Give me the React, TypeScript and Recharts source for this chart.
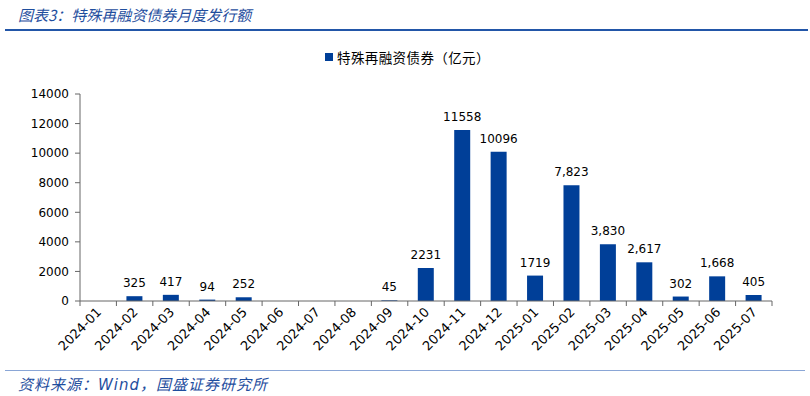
import { Bar, BarChart, LabelList, XAxis, YAxis } from 'recharts';

// 特殊再融资债券月度发行额(亿元)
const months = [
  '2024-01', '2024-02', '2024-03', '2024-04', '2024-05', '2024-06', '2024-07',
  '2024-08', '2024-09', '2024-10', '2024-11', '2024-12', '2025-01', '2025-02',
  '2025-03', '2025-04', '2025-05', '2025-06', '2025-07',
];
const issuance = [0, 325, 417, 94, 252, 0, 0, 0, 45, 2231, 11558, 10096, 1719, 7823, 3830, 2617, 302, 1668, 405];
const valueLabels = ['', '325', '417', '94', '252', '', '', '', '45', '2231', '11558', '10096', '1719', '7,823', '3,830', '2,617', '302', '1,668', '405'];
const yTicks = [0, 2000, 4000, 6000, 8000, 10000, 12000, 14000];

const W = 810;
const H = 396;
const PLOT_LEFT = 80;
const PLOT_RIGHT = 772;
const BAND = (PLOT_RIGHT - PLOT_LEFT) / months.length;
const BAR_COLOR = '#003f98';
const AXIS_COLOR = '#666666';
const FONT = '"DejaVu Sans", Tahoma, sans-serif';
const CJK = '"Noto Sans CJK SC", sans-serif';

const rows = months.map((m, i) => ({ month: m, v: issuance[i], label: valueLabels[i] }));

function XTick(props: any) {
  const { x, y, payload } = props;
  const axisY = y - 8;
  const last = payload.index === months.length - 1;
  return (
    <g>
      <line x1={x - BAND / 2} y1={axisY} x2={x - BAND / 2} y2={axisY + 5} stroke={AXIS_COLOR} />
      {last && <line x1={x + BAND / 2} y1={axisY} x2={x + BAND / 2} y2={axisY + 5} stroke={AXIS_COLOR} />}
      <text
        x={x + 4}
        y={y + 4}
        textAnchor="end"
        transform={`rotate(-45, ${x + 4}, ${y + 4})`}
        fontSize={13}
        fontFamily={FONT}
        fill="#000"
      >
        {payload.value}
      </text>
    </g>
  );
}

export default function App() {
  return (
    <div style={{ position: 'fixed', left: 0, top: 0, width: W, height: H, background: '#fff' }}>
      <div
        style={{
          position: 'absolute', left: 18, top: 4, fontFamily: CJK, fontStyle: 'italic',
          fontSize: 15, color: '#1f4e9e', whiteSpace: 'nowrap',
        }}
      >
        图表3：特殊再融资债券月度发行额
      </div>
      <div style={{ position: 'absolute', left: 5, top: 29, width: 803, height: 2, background: '#2256a8' }} />

      <div style={{ position: 'absolute', left: 325, top: 47, display: 'flex', alignItems: 'center', whiteSpace: 'nowrap' }}>
        <span style={{ width: 8, height: 8, background: BAR_COLOR, marginRight: 4 }} />
        <span style={{ fontFamily: CJK, fontSize: 13.5, color: '#000', letterSpacing: 0.4 }}>特殊再融资债券（亿元）</span>
      </div>

      <div style={{ position: 'absolute', left: 0, top: 0 }}>
        <BarChart width={W} height={H} data={rows} margin={{ top: 94, right: W - PLOT_RIGHT, bottom: 0, left: 0 }}>
          <XAxis
            dataKey="month"
            interval={0}
            tickLine={false}
            axisLine={{ stroke: AXIS_COLOR }}
            tick={<XTick />}
            height={95}
          />
          <YAxis
            domain={[0, 14000]}
            ticks={yTicks}
            interval={0}
            width={PLOT_LEFT}
            tickSize={5}
            tickLine={{ stroke: AXIS_COLOR }}
            axisLine={{ stroke: AXIS_COLOR }}
            tick={{ fontSize: 12, fontFamily: FONT, fill: '#000' }}
            tickMargin={6}
          />
          <Bar dataKey="v" fill={BAR_COLOR} barSize={16} isAnimationActive={false}>
            <LabelList dataKey="label" position="top" offset={9} fontSize={12} fontFamily={FONT} fill="#000" />
          </Bar>
        </BarChart>
      </div>

      <div style={{ position: 'absolute', left: 5, top: 370, width: 800, height: 1, background: '#8aa6d6' }} />
      <div
        style={{
          position: 'absolute', left: 18, top: 373, fontFamily: CJK, fontStyle: 'italic',
          fontSize: 15, letterSpacing: 1, color: '#1f4e9e', whiteSpace: 'nowrap',
        }}
      >
        资料来源：<span style={{ fontFamily: FONT }}>Wind</span>，国盛证券研究所
      </div>
    </div>
  );
}
